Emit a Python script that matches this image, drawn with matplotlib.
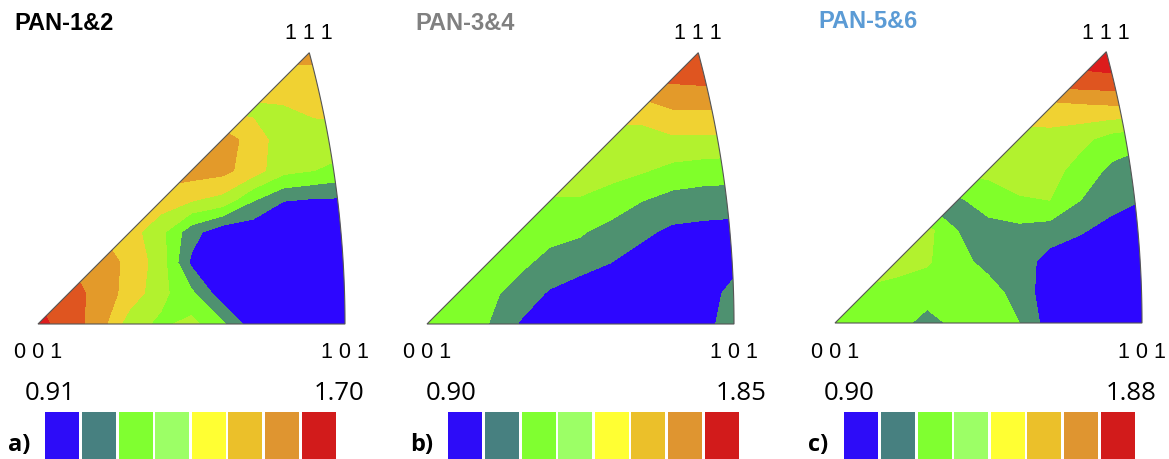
import numpy as np
import matplotlib
matplotlib.use('Agg')
import matplotlib.pyplot as plt
from matplotlib.path import Path
from matplotlib.patches import PathPatch

W, H = 1169, 459

panel_titles = ['PAN-1&2', 'PAN-3&4', 'PAN-5&6']
title_colors = ['#000000', '#808080', '#5b9bd5']
panel_tags = ['a)', 'b)', 'c)']
pole_labels = ['0 0 1', '1 0 1', '1 1 1']
range_min = [0.91, 0.90, 0.90]
range_max = [1.70, 1.85, 1.88]

# sampling points over the standard triangle, as fraction of the 001-101 edge
grid_u = [0.0, 0.1, 0.2, 0.3, 0.4, 0.5, 0.6, 0.7, 0.8, 0.9, 1.0]
grid_v = [0.0, 0.1, 0.2, 0.3, 0.4, 0.5, 0.6, 0.7, 0.8, 0.9]

# density, in steps of the 8-colour legend (rows = grid_v)
level_a = [
    [7.3, 6.5, 5.5, 3.4, 2.8, 3.3, 2.2, 0.4, 0.3, 0.3, 0.3],
    [6.9, 6.5, 5.6, 4.6, 3.3, 2.2, 0.4, 0.3, 0.3, 0.3, 0.3],
    [6.0, 6.0, 5.6, 4.7, 3.5, 0.8, 0.3, 0.3, 0.3, 0.3, 0.3],
    [5.0, 5.0, 5.0, 4.4, 3.3, 1.4, 0.3, 0.3, 0.3, 0.3, 0.3],
    [4.5, 4.5, 4.5, 4.5, 4.5, 4.0, 3.6, 2.0, 1.0, 0.8, 0.8],
    [5.5, 5.5, 5.5, 5.5, 5.5, 5.5, 5.3, 4.5, 3.3, 3.0, 2.6],
    [5.6, 5.6, 5.6, 5.6, 5.6, 5.6, 5.6, 4.5, 3.5, 3.5, 3.5],
    [3.8, 3.8, 3.8, 3.8, 3.8, 3.8, 3.8, 3.8, 3.9, 4.2, 4.3],
    [4.6, 4.6, 4.6, 4.6, 4.6, 4.6, 4.6, 4.6, 4.6, 4.6, 4.6],
    [5.5, 5.5, 5.5, 5.5, 5.5, 5.5, 5.5, 5.5, 5.5, 5.5, 5.5],
]
level_b = [
    [2.6, 2.5, 2.0, 0.95, 0.4, 0.3, 0.3, 0.3, 0.3, 0.6, 1.6],
    [2.6, 2.6, 2.3, 1.5, 0.9, 0.3, 0.3, 0.3, 0.3, 0.4, 1.4],
    [2.7, 2.7, 2.7, 2.3, 1.6, 1.5, 1.0, 0.6, 0.3, 0.3, 0.6],
    [2.6, 2.6, 2.6, 2.6, 2.4, 2.1, 1.6, 1.2, 0.8, 0.7, 0.6],
    [2.9, 2.9, 2.9, 2.9, 2.9, 2.9, 2.6, 2.0, 1.6, 1.5, 1.5],
    [3.5, 3.5, 3.5, 3.5, 3.5, 3.5, 3.3, 3.1, 2.7, 2.5, 2.4],
    [3.6, 3.6, 3.6, 3.6, 3.6, 3.6, 3.6, 3.6, 3.8, 3.8, 3.8],
    [4.4, 4.4, 4.4, 4.4, 4.4, 4.4, 4.4, 4.4, 5.0, 5.0, 5.0],
    [6.2, 6.2, 6.2, 6.2, 6.2, 6.2, 6.2, 6.2, 6.2, 6.3, 6.3],
    [6.8, 6.8, 6.8, 6.8, 6.8, 6.8, 6.8, 6.8, 6.8, 6.8, 6.8],
]
level_c = [
    [2.5, 2.6, 2.4, 1.6, 2.3, 2.6, 2.0, 0.5, 0.3, 0.3, 0.3],
    [2.9, 2.9, 2.7, 2.5, 2.5, 2.5, 1.5, 0.5, 0.3, 0.3, 0.3],
    [3.3, 3.3, 3.3, 3.1, 2.4, 1.6, 1.5, 0.6, 0.3, 0.3, 0.3],
    [3.3, 3.3, 3.3, 3.3, 2.0, 1.5, 1.7, 1.5, 1.1, 0.6, 0.4],
    [1.8, 1.8, 1.8, 1.8, 1.8, 2.6, 2.9, 3.0, 2.0, 1.4, 1.0],
    [3.2, 3.2, 3.2, 3.2, 3.2, 3.2, 3.5, 3.4, 2.6, 1.8, 1.6],
    [3.6, 3.6, 3.6, 3.6, 3.6, 3.6, 3.6, 3.7, 3.3, 2.6, 2.2],
    [4.5, 4.5, 4.5, 4.5, 4.5, 4.5, 4.5, 4.5, 4.7, 4.8, 4.8],
    [6.8, 6.8, 6.8, 6.8, 6.8, 6.8, 6.8, 6.8, 6.8, 6.9, 6.9],
    [7.6, 7.6, 7.6, 7.6, 7.6, 7.6, 7.6, 7.6, 7.6, 7.6, 7.6],
]
levels_all = [level_a, level_b, level_c]

map_colors = ['#2d06ff', '#4e9170', '#80ff2a', '#b2f22e',
              '#f0d232', '#e39a2a', '#df5520', '#dd1c1c']
legend_colors = ['#2d0cf8', '#478080', '#80ff30', '#9cff66',
                 '#ffff33', '#ebc02a', '#df9530', '#d21b1b']

# layout in pixels
S = 307
origins = [(38, 324), (427, 324), (835, 323)]
title_x = [14, 415, 818]
title_y = [30, 30, 28]
min_x = [50, 451, 849]
max_x = [339, 741, 1131]
bar_left = [44, 447, 843]
bar_width = 293
tag_x = [8, 410, 808]


def fx(px):
    return px / W


def fy(py):
    return 1 - py / H


def triangle_path():
    # 001 -> 101 -> arc -> 111 -> 001, in units of the 001-101 edge
    c = -1 / (np.sqrt(2) - 1)
    r = np.sqrt(2) / (np.sqrt(2) - 1)
    tip = (np.sqrt(3) - 1) / 2 / (np.sqrt(2) - 1)
    t_end = np.arctan2(tip, tip - c)
    t = np.linspace(0, t_end, 60)
    verts = [(0, 0)] + list(zip(c + r * np.cos(t), r * np.sin(t))) + [(0, 0)]
    return Path(verts, closed=True), tip


fig = plt.figure(figsize=(W / 100, H / 100), dpi=100)
fig.patch.set_facecolor('white')

uu, vv = np.meshgrid(grid_u, grid_v)

for i in range(3):
    ox, oy = origins[i]
    vmin, vmax = range_min[i], range_max[i]
    ax = fig.add_axes([fx(ox - 0.1 * S), fy(oy + 0.05 * S), 1.2 * S / W, 1.0 * S / H])
    ax.set_xlim(-0.1, 1.1)
    ax.set_ylim(-0.05, 0.95)
    ax.axis('off')

    z = vmin + np.array(levels_all[i]) * (vmax - vmin) / 8
    bounds = np.linspace(vmin, vmax, 9)
    cs = ax.contourf(uu, vv, z, levels=bounds, colors=map_colors, extend='both')
    cs.cmap.set_under(map_colors[0])
    cs.cmap.set_over(map_colors[-1])
    path, tip = triangle_path()
    patch = PathPatch(path, facecolor='none', edgecolor='#555555', lw=0.8, zorder=3)
    ax.add_patch(patch)
    cs.set_clip_path(patch)

    # labels
    fig.text(fx(title_x[i]), fy(title_y[i]), panel_titles[i], color=title_colors[i],
             fontsize=17, fontweight='bold', family='Liberation Sans', va='baseline')
    fig.text(fx(ox), fy(358), pole_labels[0], fontsize=15.5, family='Liberation Sans',
             ha='center', va='baseline')
    fig.text(fx(ox + S), fy(358), pole_labels[1], fontsize=15.5, family='Liberation Sans',
             ha='center', va='baseline')
    fig.text(fx(ox + tip * S), fy(39), pole_labels[2], fontsize=15.5,
             family='Liberation Sans', ha='center', va='baseline')
    fig.text(fx(min_x[i]), fy(400), f'{vmin:.2f}', fontsize=18.5, family='Open Sans',
             ha='center', va='baseline')
    fig.text(fx(max_x[i]), fy(400), f'{vmax:.2f}', fontsize=18.5, family='Open Sans',
             ha='center', va='baseline')
    fig.text(fx(tag_x[i]), fy(451), panel_tags[i], fontsize=17, fontweight='bold',
             family='Open Sans', va='baseline')

    # colour legend
    lax = fig.add_axes([fx(bar_left[i]), fy(459), bar_width / W, 47 / H])
    lax.bar(np.arange(8), np.ones(8), width=0.93, color=legend_colors)
    lax.set_xlim(-0.5, 7.5)
    lax.set_ylim(0, 1)
    lax.axis('off')

fig.savefig('out.png', dpi=100, facecolor='white')
